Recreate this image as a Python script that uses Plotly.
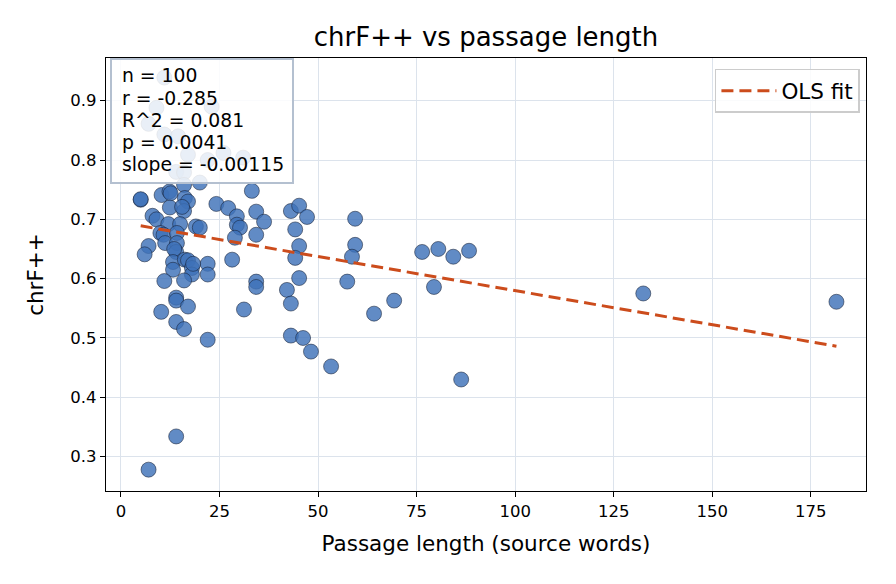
import plotly.graph_objects as go

# Passage length (source words) and chrF++ scores
passage_len = [
    11, 9, 7, 23, 11, 14.5, 17, 22, 26, 31, 14, 16,
    5, 5, 10.3, 12.3, 12.6, 16, 20, 16.2, 17, 12.4, 16, 8, 9, 12, 15,
    10, 10.8, 14.2, 19, 20, 11.2, 14.2, 7, 6, 14, 13.5, 13.2, 16.2, 17,
    13.2, 18, 22, 22, 18, 16, 11, 14, 14, 17, 10.2, 14, 16, 22, 7, 14, 24.2,
    27.2, 29.4, 29.4, 30.2, 28.9, 33.2, 34.3, 36.3, 34.3, 28.2, 34.3, 34.3, 31.2,
    43.1, 45.2, 47.2, 44.2, 45.2, 44.2, 45.2, 42.1, 43.1, 43.1, 46.2, 48.2, 53.3,
    59.4, 59.4, 58.6, 57.4, 64.2, 69.3, 76.4, 80.5, 84.3, 88.3, 79.4, 86.3,
    132.5, 181.5, 18.3, 15.5,
]
chrf = [
    0.939, 0.888, 0.861, 0.890, 0.843, 0.840, 0.809, 0.800, 0.812, 0.804, 0.780, 0.779,
    0.733, 0.734, 0.741, 0.747, 0.744, 0.758, 0.762, 0.736, 0.730, 0.720, 0.714, 0.706, 0.700, 0.692, 0.692,
    0.677, 0.674, 0.677, 0.688, 0.686, 0.660, 0.660, 0.655, 0.641, 0.645, 0.650, 0.628, 0.632, 0.631,
    0.615, 0.618, 0.625, 0.607, 0.607, 0.597, 0.596, 0.568, 0.563, 0.553, 0.544, 0.527, 0.515, 0.497, 0.278, 0.334, 0.726,
    0.719, 0.705, 0.691, 0.686, 0.669, 0.748, 0.713, 0.696, 0.674, 0.632, 0.595, 0.586, 0.548,
    0.714, 0.723, 0.704, 0.683, 0.655, 0.635, 0.601, 0.581, 0.558, 0.504, 0.500, 0.477, 0.452,
    0.701, 0.657, 0.637, 0.595, 0.541, 0.563, 0.645, 0.650, 0.637, 0.647, 0.586, 0.430,
    0.575, 0.561, 0.625, 0.721,
]

# OLS fit parameters (slope from the stats box)
fit_slope = -0.00115
fit_intercept = 0.6948

stats_lines = ["n = 100", "r = -0.285", "R^2 = 0.081", "p = 0.0041", "slope = -0.00115"]

x_ticks = [0, 25, 50, 75, 100, 125, 150, 175]
y_ticks = [0.3, 0.4, 0.5, 0.6, 0.7, 0.8, 0.9]

FONT = "DejaVu Sans"

# plot-area geometry in pixels (for placing the stats box)
L, R, T, B = 106, 866, 58, 491
W, H = R - L, B - T


def px_x(p):
    return (p - L) / W


def px_y(p):
    return 1 - (p - T) / H


x_lo, x_hi = min(passage_len), max(passage_len)
fit_x = [x_lo, x_hi]
fit_y = [fit_intercept + fit_slope * v for v in fit_x]

fig = go.Figure()
fig.add_trace(go.Scatter(
    x=passage_len, y=chrf, mode="markers", showlegend=False,
    marker=dict(size=15, color="rgba(62,114,184,0.82)",
                line=dict(color="rgba(20,30,50,0.9)", width=0.6)),
))
fig.add_trace(go.Scatter(
    x=fit_x, y=fit_y, mode="lines", name="OLS fit",
    line=dict(color="#cc4c1c", width=3, dash="12px,6px"),
))

axis_common = dict(
    showline=True, linecolor="black", linewidth=1.3, mirror=True,
    ticks="outside", ticklen=5, tickwidth=1.2, tickcolor="black",
    showgrid=True, gridcolor="#dce3ec", gridwidth=1.3, zeroline=False,
    tickfont=dict(family=FONT, size=16.5, color="black"),
)

fig.update_xaxes(range=[-3.8, 189], tickvals=x_ticks,
                 title=dict(text="Passage length (source words)",
                            font=dict(family=FONT, size=21.5, color="black"), standoff=15),
                 **axis_common)
fig.update_yaxes(range=[0.242, 0.972], tickvals=y_ticks, tickformat=".1f",
                 title=dict(text="chrF++", font=dict(family=FONT, size=21.5, color="black"), standoff=20),
                 **axis_common)

# stats box: semi-transparent rectangle drawn above the points, then one annotation per line
fig.add_shape(
    type="rect", xref="paper", yref="paper", layer="above",
    x0=px_x(111), x1=px_x(293), y0=px_y(183), y1=px_y(59),
    fillcolor="rgba(255,255,255,0.86)", line=dict(color="#b4c0d0", width=2),
)
for i, line in enumerate(stats_lines):
    fig.add_annotation(
        xref="paper", yref="paper", x=px_x(120), y=px_y(76 + 22.2 * i),
        xanchor="left", yanchor="middle", text=line, showarrow=False, align="left",
        font=dict(family=FONT, size=18.8, color="black"),
    )

fig.update_layout(
    width=896, height=584,
    margin=dict(l=L, r=896 - R, t=T, b=584 - B),
    paper_bgcolor="white", plot_bgcolor="white",
    title=dict(text="chrF++ vs passage length", x=0.5, xref="paper",
               y=1 - 37 / 584, yref="container", yanchor="middle",
               font=dict(family=FONT, size=26, color="black")),
    legend=dict(x=0.992, y=0.975, xanchor="right", yanchor="top", itemwidth=55,
                bgcolor="rgba(255,255,255,0.85)", bordercolor="#cccccc", borderwidth=1.5,
                font=dict(family=FONT, size=21.5, color="black")),
    font=dict(family=FONT),
)

fig.write_html("out.html")
